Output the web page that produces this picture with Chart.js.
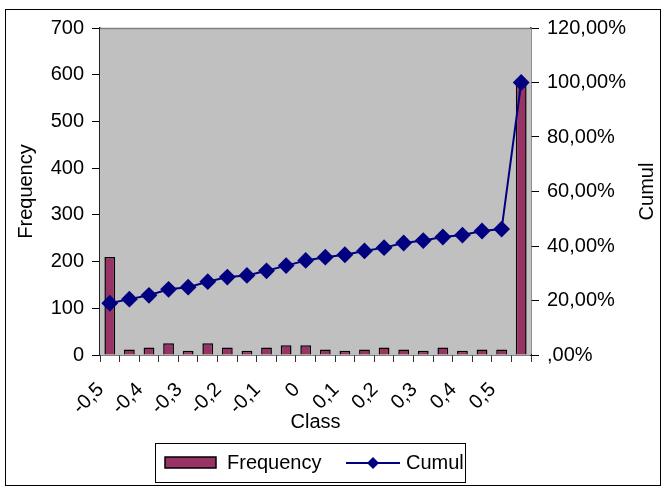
<!DOCTYPE html>
<html>
<head>
<meta charset="utf-8">
<script src="https://cdn.jsdelivr.net/npm/chart.js@4.4.1/dist/chart.umd.min.js"></script>
<style>
  html, body { margin: 0; padding: 0; background: #fff; }
  #wrap { width: 662px; height: 489px; position: relative; }
</style>
</head>
<body>
<div id="wrap"><canvas id="histChart"></canvas></div>
<script>
// classes (bins) of the histogram, last one is the overflow bin
const classes = ['-0,5', '-0,45', '-0,4', '-0,35', '-0,3', '-0,25', '-0,2', '-0,15', '-0,1', '-0,05', '0',
                 '0,05', '0,1', '0,15', '0,2', '0,25', '0,3', '0,35', '0,4', '0,45', '0,5', 'More'];
const frequency = [210, 12, 16, 25, 9, 25, 16, 9, 16, 21, 21, 12, 9, 12, 16, 12, 9, 16, 9, 12, 12, 585];
const cumul = [0.190, 0.205, 0.219, 0.241, 0.249, 0.269, 0.286, 0.292, 0.309, 0.328, 0.347,
               0.359, 0.368, 0.382, 0.394, 0.411, 0.420, 0.433, 0.440, 0.455, 0.462, 1.000];
const freqTicks = [0, 100, 200, 300, 400, 500, 600, 700];
const cumulTicks = [0, 0.2, 0.4, 0.6, 0.8, 1.0, 1.2];

const FONT = { family: '"Liberation Sans", Arial, sans-serif', size: 20 };

function pct(v) {
    let s = (v * 100).toFixed(2).replace('.', ',');
    if (s.startsWith('0,')) s = s.slice(1);
    return s + '%';
}

const decor = {
    id: 'decor',
    beforeDatasetsDraw(chart) {
        const { ctx, chartArea: a } = chart;
        ctx.save();
        ctx.fillStyle = '#C0C0C0';
        ctx.fillRect(a.left, a.top, a.right - a.left, a.bottom - a.top);
        ctx.strokeStyle = '#808080';
        ctx.lineWidth = 1.5;
        ctx.beginPath();
        ctx.moveTo(a.left, a.top + 0.5);
        ctx.lineTo(a.right, a.top + 0.5);
        ctx.stroke();
        ctx.restore();
    },
    afterDraw(chart) {
        const ctx = chart.ctx;
        ctx.save();
        // outer frame
        ctx.strokeStyle = '#000';
        ctx.lineWidth = 1;
        ctx.strokeRect(5.5, 9.5, 655, 476);

        // right axis title, reading bottom to top
        ctx.fillStyle = '#000';
        ctx.font = `${FONT.size}px ${FONT.family}`;
        ctx.textAlign = 'center';
        ctx.textBaseline = 'middle';
        ctx.translate(647, (chart.chartArea.top + chart.chartArea.bottom) / 2);
        ctx.rotate(-Math.PI / 2);
        ctx.fillText('Cumul', 0, 0);
        ctx.restore();

        // legend
        const bars = chart.data.datasets.find(d => d.type === 'bar');
        const line = chart.data.datasets.find(d => d.type === 'line');
        ctx.save();
        ctx.strokeStyle = '#000';
        ctx.lineWidth = 1;
        ctx.strokeRect(155.5, 443.5, 310, 39);
        ctx.font = `${FONT.size}px ${FONT.family}`;
        ctx.textBaseline = 'middle';
        ctx.textAlign = 'left';
        const cy = 463;
        ctx.fillStyle = bars.backgroundColor;
        ctx.fillRect(165, 457, 51, 11);
        ctx.strokeStyle = '#000';
        ctx.lineWidth = 1.5;
        ctx.strokeRect(165, 457, 51, 11);
        ctx.fillStyle = '#000';
        ctx.fillText(bars.label, 227, cy);
        ctx.strokeStyle = line.borderColor;
        ctx.lineWidth = 2;
        ctx.beginPath();
        ctx.moveTo(346, cy);
        ctx.lineTo(400, cy);
        ctx.stroke();
        ctx.fillStyle = line.pointBackgroundColor;
        ctx.beginPath();
        ctx.moveTo(373, cy - 6);
        ctx.lineTo(379, cy);
        ctx.lineTo(373, cy + 6);
        ctx.lineTo(367, cy);
        ctx.closePath();
        ctx.fill();
        ctx.fillStyle = '#000';
        ctx.fillText(line.label, 406, cy);
        ctx.restore();
    }
};

new Chart(document.getElementById('histChart'), {
    data: {
        labels: classes,
        datasets: [{
            type: 'line',
            label: 'Cumul',
            data: cumul,
            yAxisID: 'y1',
            borderColor: '#000080',
            borderWidth: 2,
            pointStyle: 'rectRot',
            pointRadius: 7,
            pointBackgroundColor: '#000080',
            pointBorderColor: '#000080',
            tension: 0,
            order: 0
        }, {
            type: 'bar',
            label: 'Frequency',
            data: frequency,
            yAxisID: 'y',
            backgroundColor: '#993366',
            borderColor: '#000',
            borderWidth: 1.5,
            categoryPercentage: 1,
            barPercentage: 0.55,
            order: 1
        }]
    },
    options: {
        responsive: true,
        maintainAspectRatio: false,
        animation: false,
        layout: { padding: { top: 28, left: 10, right: 0, bottom: 49 } },
        plugins: { legend: { display: false }, tooltip: { enabled: false } },
        scales: {
            x: {
                offset: true,
                grid: { offset: true, drawOnChartArea: false, color: '#000', tickLength: 7, tickColor: '#333' },
                border: { color: '#000', width: 1.5 },
                ticks: {
                    autoSkip: false, minRotation: 45, maxRotation: 45, color: '#000', font: FONT,
                    padding: 16, labelOffset: -9,
                    callback: (v, i) => i % 2 === 0 ? classes[i] : ''
                },
                title: { display: true, text: 'Class', color: '#000', font: FONT, padding: { top: 0, bottom: 6 } },
                afterFit: s => { s.height = 85; }
            },
            y: {
                position: 'left',
                min: 0, max: 700,
                afterBuildTicks: s => { s.ticks = freqTicks.map(v => ({ value: v })); },
                grid: { drawOnChartArea: false, tickLength: 8, tickColor: '#000' },
                border: { color: '#222', width: 1.5 },
                ticks: { color: '#000', font: FONT, padding: 8 },
                title: { display: true, text: 'Frequency', color: '#000', font: FONT, padding: { top: 4, bottom: 0 } },
                afterFit: s => { s.width = 90; }
            },
            y1: {
                position: 'right',
                min: 0, max: 1.2,
                afterBuildTicks: s => { s.ticks = cumulTicks.map(v => ({ value: v })); },
                grid: { drawOnChartArea: false, tickLength: 8, tickColor: '#000' },
                border: { color: '#222', width: 1.5 },
                ticks: { color: '#000', font: FONT, padding: 8, callback: v => pct(v) },
                afterFit: s => { s.width = 131; }
            }
        }
    },
    plugins: [decor]
});
</script>
</body>
</html>
